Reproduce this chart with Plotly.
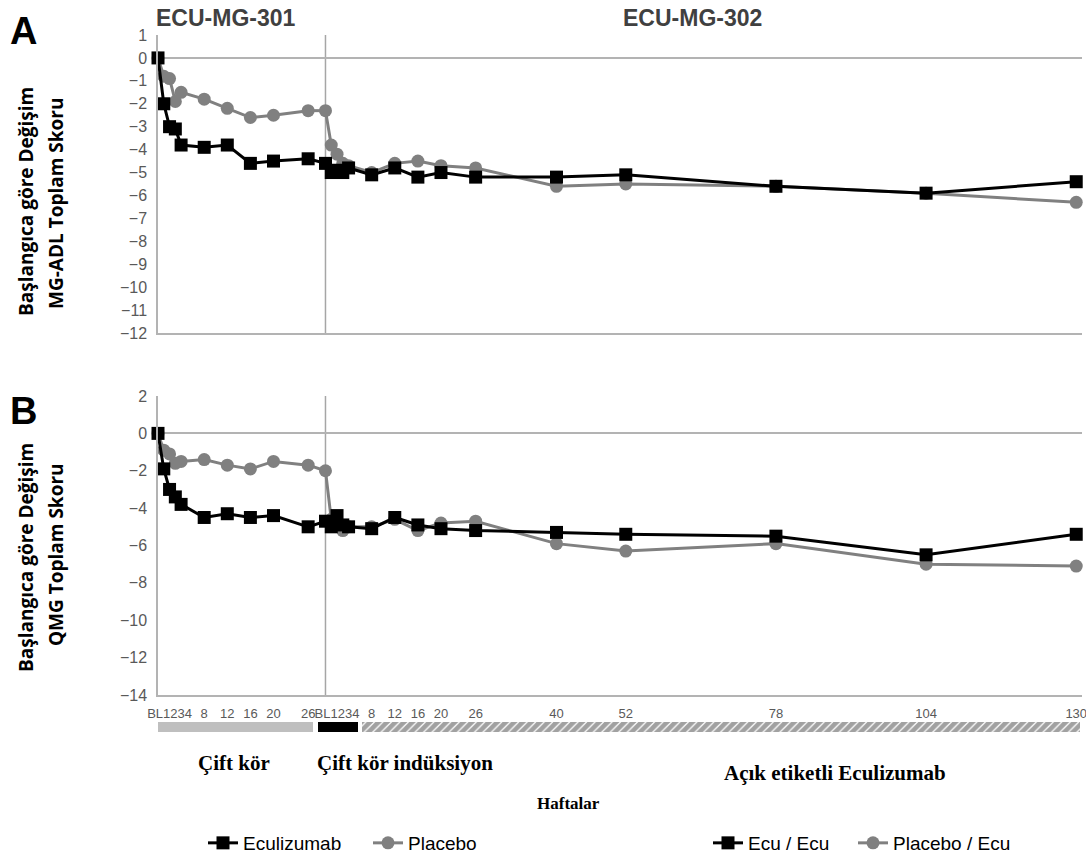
import plotly.graph_objects as go

# ---------------- data ----------------
weeks_301 = [0, 1, 2, 3, 4, 8, 12, 16, 20, 26]
weeks_302 = [0, 1, 2, 3, 4, 8, 12, 16, 20, 26, 40, 52, 78, 104, 130]

# Panel A: MG-ADL change from baseline
adl_ecu_301 = [0, -2.0, -3.0, -3.1, -3.8, -3.9, -3.8, -4.6, -4.5, -4.4]
adl_pbo_301 = [0, -0.8, -0.9, -1.9, -1.5, -1.8, -2.2, -2.6, -2.5, -2.3]
adl_ecu_302 = [-4.6, -5.0, -4.9, -5.0, -4.8, -5.1, -4.8, -5.2, -5.0, -5.2, -5.2, -5.1, -5.6, -5.9, -5.4]
adl_pbo_302 = [-2.3, -3.8, -4.2, -4.6, -4.7, -5.0, -4.6, -4.5, -4.7, -4.8, -5.6, -5.5, -5.6, -5.9, -6.3]

# Panel B: QMG change from baseline
qmg_ecu_301 = [0, -1.9, -3.0, -3.4, -3.8, -4.5, -4.3, -4.5, -4.4, -5.0]
qmg_pbo_301 = [0, -0.9, -1.1, -1.6, -1.5, -1.4, -1.7, -1.9, -1.5, -1.7]
qmg_ecu_302 = [-4.7, -5.0, -4.4, -4.9, -5.0, -5.1, -4.5, -4.9, -5.1, -5.2, -5.3, -5.4, -5.5, -6.5, -5.4]
qmg_pbo_302 = [-2.0, -4.6, -4.9, -5.2, -5.0, -5.0, -4.6, -5.2, -4.8, -4.7, -5.9, -6.3, -5.9, -7.0, -7.1]

tick_weeks_301 = [2, 8, 12, 16, 20, 26]
tick_text_301 = ["BL1234", "8", "12", "16", "20", "26"]
tick_weeks_302 = [2, 8, 12, 16, 20, 26, 40, 52, 78, 104, 130]
tick_text_302 = ["BL1234", "8", "12", "16", "20", "26", "40", "52", "78", "104", "130"]

phase_names = ["Çift kör", "Çift kör indüksiyon", "Açık etiketli Eculizumab"]
phase_start = [0, 27.7, 35.3]
phase_end = [26.8, 34.6, 159.6]

# timeline scale: study 302 starts after a short gap on the axis
OFFSET_302 = 29
def t301(w):
    return list(w)
def t302(w):
    return [v + OFFSET_302 for v in w]

GRAY = "#808080"
AXIS = "#b3b3b3"
TICK = "#595959"

# layout geometry (pixels -> paper)
W, H = 1086, 861
ML, MR, MT, MB = 158, 4, 35, 121
PW, PH = W - ML - MR, H - MT - MB
def px(x):
    return (x - ML) / PW
def py(y):
    return (H - MB - y) / PH

fig = go.Figure()

def add_panel(xa, ya, ecu301, pbo301, ecu302, pbo302, legend_on):
    x1 = t301(weeks_301)
    x2 = t302(weeks_302)
    fig.add_trace(go.Scatter(x=[x1[-1], x2[0]], y=[pbo301[-1], pbo302[0]], mode="lines",
                             line=dict(color=GRAY, width=3), showlegend=False, hoverinfo="skip",
                             xaxis=xa, yaxis=ya))
    fig.add_trace(go.Scatter(x=[x1[-1], x2[0]], y=[ecu301[-1], ecu302[0]], mode="lines",
                             line=dict(color="black", width=3), showlegend=False, hoverinfo="skip",
                             xaxis=xa, yaxis=ya))
    fig.add_trace(go.Scatter(x=x2, y=pbo302, mode="lines+markers", name="Placebo / Ecu",
                             line=dict(color=GRAY, width=3),
                             marker=dict(symbol="circle", size=13, color=GRAY),
                             showlegend=legend_on, legend="legend4",
                             cliponaxis=False, xaxis=xa, yaxis=ya))
    fig.add_trace(go.Scatter(x=x1, y=pbo301, mode="lines+markers", name="Placebo",
                             line=dict(color=GRAY, width=3),
                             marker=dict(symbol="circle", size=13, color=GRAY),
                             showlegend=legend_on, legend="legend2",
                             cliponaxis=False, xaxis=xa, yaxis=ya))
    fig.add_trace(go.Scatter(x=x2, y=ecu302, mode="lines+markers", name="Ecu / Ecu",
                             line=dict(color="black", width=3),
                             marker=dict(symbol="square", size=13, color="black"),
                             showlegend=legend_on, legend="legend3",
                             cliponaxis=False, xaxis=xa, yaxis=ya))
    fig.add_trace(go.Scatter(x=x1, y=ecu301, mode="lines+markers", name="Eculizumab",
                             line=dict(color="black", width=3),
                             marker=dict(symbol="square", size=13, color="black"),
                             showlegend=legend_on, legend="legend",
                             cliponaxis=False, xaxis=xa, yaxis=ya))

add_panel("x", "y", adl_ecu_301, adl_pbo_301, adl_ecu_302, adl_pbo_302, True)
add_panel("x2", "y2", qmg_ecu_301, qmg_pbo_301, qmg_ecu_302, qmg_pbo_302, False)

# phase bars under the x axis
fig.add_trace(go.Bar(
    orientation="h", y=[0.5] * 3, base=phase_start,
    x=[e - s for s, e in zip(phase_start, phase_end)], width=1,
    marker=dict(color=["#bfbfbf", "black", "white"], line=dict(width=0),
                pattern=dict(shape=["", "", "/"], fgcolor="black", bgcolor="white",
                             size=6, solidity=0.8)),
    showlegend=False, hoverinfo="skip", xaxis="x2", yaxis="y3"))
fig.add_trace(go.Scatter(
    x=[(phase_start[1] + phase_end[1]) / 2], y=[-0.1], mode="markers",
    marker=dict(symbol="triangle-down", size=8, color="black"),
    showlegend=False, hoverinfo="skip", cliponaxis=False, xaxis="x2", yaxis="y3"))

ticks_x = t301(tick_weeks_301) + t302(tick_weeks_302)
ticks_t = tick_text_301 + tick_text_302

yA = [py(333), 1.0]
yB = [py(695), py(396)]
yBar = [py(732), py(722)]

axfont = dict(family="Arial, Liberation Sans, sans-serif", size=16, color=TICK)
legfont = dict(family="Arial, Liberation Sans, sans-serif", size=19, color="black")

def leg(xpix):
    return dict(orientation="h", x=px(xpix), y=py(843), xanchor="left", yanchor="middle",
                font=legfont, bgcolor="rgba(0,0,0,0)")

fig.update_layout(
    width=W, height=H,
    margin=dict(l=ML, r=MR, t=MT, b=MB, autoexpand=False),
    plot_bgcolor="white", paper_bgcolor="white",
    xaxis=dict(domain=[0, 1], range=[0, 160], anchor="y", showline=True, linecolor=AXIS,
               linewidth=1.5, showgrid=False, zeroline=False, showticklabels=False,
               automargin=False),
    yaxis=dict(domain=yA, range=[-12, 1], dtick=1, tick0=0, anchor="x", showline=True,
               linecolor=AXIS, linewidth=1.5, showgrid=False, zeroline=True,
               zerolinecolor=AXIS, zerolinewidth=1.5, tickfont=axfont,
               ticklabelstandoff=6, automargin=False),
    xaxis2=dict(domain=[0, 1], range=[0, 160], anchor="y2", showline=True, linecolor=AXIS,
                linewidth=1.5, showgrid=False, zeroline=False, tickmode="array",
                tickvals=ticks_x, ticktext=ticks_t, tickangle=0,
                tickfont=dict(family="Arial, Liberation Sans, sans-serif", size=13, color=TICK),
                ticklabelstandoff=6, ticklabeloverflow="allow", automargin=False),
    yaxis2=dict(domain=yB, range=[-14, 2], dtick=2, tick0=0, anchor="x2", showline=True,
                linecolor=AXIS, linewidth=1.5, showgrid=False, zeroline=True,
                zerolinecolor=AXIS, zerolinewidth=1.5, tickfont=axfont,
                ticklabelstandoff=6, automargin=False),
    yaxis3=dict(domain=yBar, range=[0, 1], anchor="x2", visible=False, fixedrange=True),
    legend=leg(203), legend2=leg(368), legend3=leg(708), legend4=leg(853),
    showlegend=True,
    bargap=0,
)

# divider line between studies
for xr, yr in (("x", "y domain"), ("x2", "y2 domain")):
    fig.add_shape(type="line", xref=xr, yref=yr, x0=OFFSET_302, x1=OFFSET_302, y0=0, y1=1,
                  line=dict(color="#a6a6a6", width=1.5), layer="below")

ann = []
hdr = dict(family="Arial, Liberation Sans, sans-serif", size=23, color="#404040")
ann.append(dict(text="<b>ECU-MG-301</b>", x=px(226), y=py(18), font=hdr))
ann.append(dict(text="<b>ECU-MG-302</b>", x=px(692), y=py(18), font=hdr))
big = dict(family="Arial, Liberation Sans, sans-serif", size=38, color="black")
ann.append(dict(text="<b>A</b>", x=px(23), y=py(31), font=big))
ann.append(dict(text="<b>B</b>", x=px(23), y=py(411), font=big))
yt = dict(family="Open Sans, sans-serif", size=19, color="black")
ann.append(dict(text="<b>Başlangıca göre Değişim</b>", x=px(26), y=py(202), font=yt, textangle=-90))
ann.append(dict(text="<b>MG-ADL Toplam Skoru</b>", x=px(56), y=py(204), font=yt, textangle=-90))
ann.append(dict(text="<b>Başlangıca göre Değişim</b>", x=px(26), y=py(558), font=yt, textangle=-90))
ann.append(dict(text="<b>QMG Toplam Skoru</b>", x=px(56), y=py(555), font=yt, textangle=-90))
ph = dict(family="Liberation Serif, Times New Roman, serif", size=21, color="black")
ann.append(dict(text="<b>%s</b>" % phase_names[0], x=px(234), y=py(763), font=ph))
ann.append(dict(text="<b>%s</b>" % phase_names[1], x=px(405), y=py(763), font=ph))
ann.append(dict(text="<b>%s</b>" % phase_names[2], x=px(835), y=py(773), font=ph))
ann.append(dict(text="<b>Haftalar</b>", x=px(568), y=py(803),
                font=dict(family="Liberation Serif, Times New Roman, serif", size=17, color="black")))
for a in ann:
    a.update(xref="paper", yref="paper", showarrow=False, xanchor="center", yanchor="middle")
    fig.add_annotation(**a)

fig.write_html("out.html", config={"displayModeBar": False},
               post_script="document.body.style.margin='0';")
